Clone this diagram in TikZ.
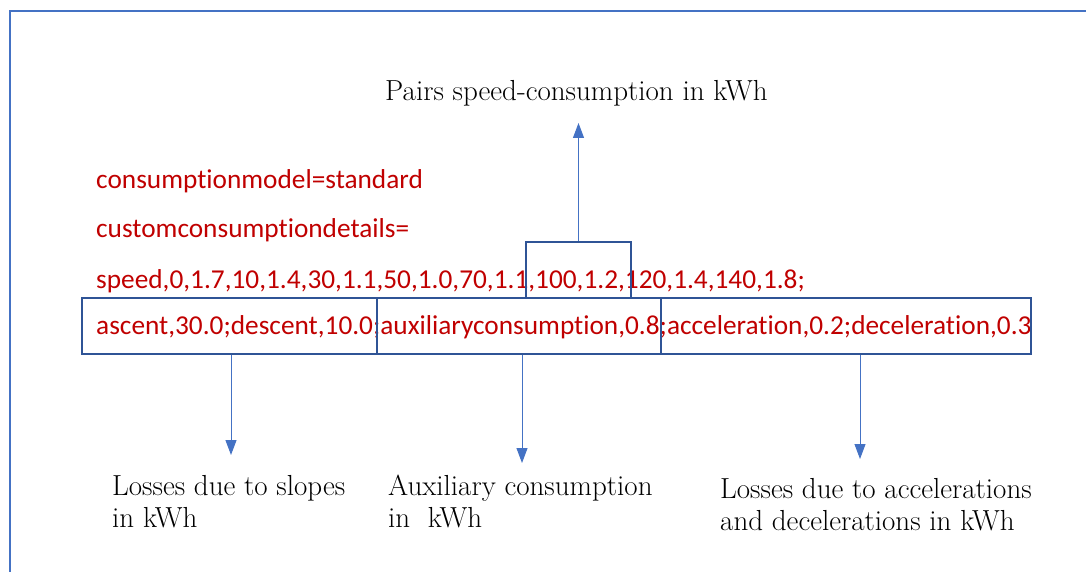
\documentclass[tikz,border=0pt]{standalone}
\usepackage{fontspec}
\newfontfamily\carlitofont[Ligatures={NoCommon}]{Carlito}
\usetikzlibrary{arrows.meta}
\definecolor{frameblue}{RGB}{68,114,196}
\definecolor{boxblue}{RGB}{47,84,150}
\definecolor{redtxt}{RGB}{192,0,0}
\begin{document}
\begin{tikzpicture}[x=1pt,y=-1pt,
  redline/.style={inner sep=0pt,anchor=base west,text=redtxt,font=\carlitofont\fontsize{27.3}{32}\selectfont},
  lbl/.style={inner sep=0pt,anchor=base west,align=left,font=\fontsize{29}{32}\selectfont},
  boxr/.style={draw=boxblue,line width=2pt,inner sep=0pt},
  arr/.style={draw=frameblue,line width=1pt,-{Triangle[width=11pt,length=15pt]}}]
\useasboundingbox (0,0) rectangle (1086,572);
\draw[frameblue,line width=2.5pt] (10,572) -- (10,11) -- (1090,11);
% red text
\node[redline] (l1) at (96,189) {consumptionmodel=standard};
\node[redline] (l2) at (96,237) {customconsumptiondetails=};
\node[redline] (l3) at (96,288) {speed,0,1.7,10,1.4,30,1.1,50,1.0,70,1.1,100,1.2,120,1.4,140,1.8;};
\node[redline] (l4) at (96,334) {ascent,30.0;descent,10.0;auxiliaryconsumption,0.8;acceleration,0.2;deceleration,0.3};
% boxes
\node[boxr,minimum width=295pt,minimum height=56pt] (b1) at (229.5,326) {};
\node[boxr,minimum width=284pt,minimum height=56pt] (b2) at (519,326) {};
\node[boxr,minimum width=370pt,minimum height=56pt] (b3) at (846,326) {};
\node[boxr,minimum width=105pt,minimum height=56pt] (bs) at (578.5,270) {};
% labels
\node[lbl] (top) at (385,101) {Pairs speed-consumption in kWh};
\node[lbl] (t1) at (112,527) {Losses due to slopes\\in kWh};
\node[lbl] (t2) at (388,527) {Auxiliary consumption\\in\ \ kWh};
\node[lbl] (t3) at (720,530) {Losses due to accelerations\\and decelerations in kWh};
% arrows
\coordinate (u) at (578.5,123);
\coordinate (d1) at (231,455);
\coordinate (d2) at (522,463);
\coordinate (d3) at (860,459);
\draw[arr] (bs.north) -- (u);
\draw[arr] (b1.south -| d1) -- (d1);
\draw[arr] (b2.south -| d2) -- (d2);
\draw[arr] (b3.south -| d3) -- (d3);
\end{tikzpicture}
\end{document}
